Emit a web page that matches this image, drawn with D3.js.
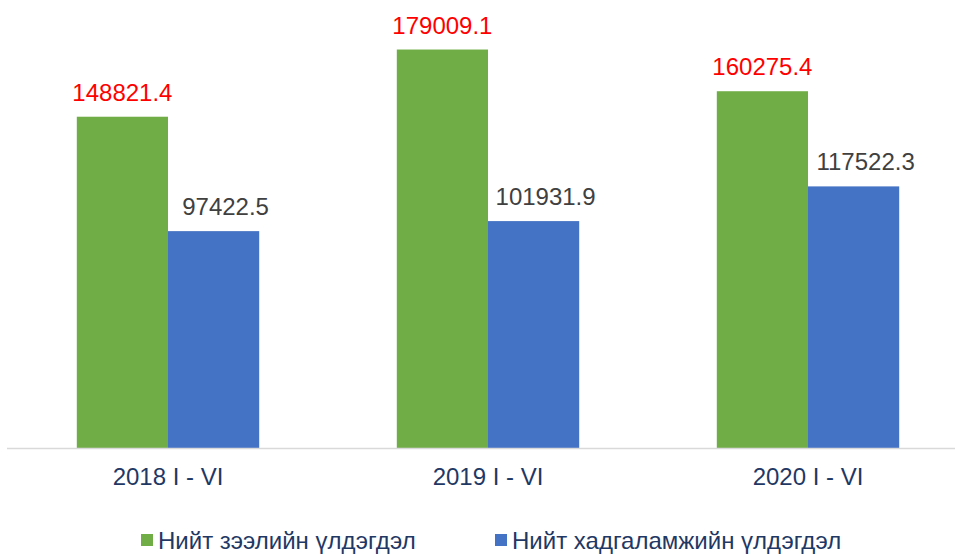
<!DOCTYPE html>
<meta charset="utf-8">
<style>
    body {
        margin: 0;
        background: #fff;
        font-family: "Liberation Sans", Arial, Helvetica, sans-serif;
    }

    svg {
        display: block;
    }
</style>

<body>
    <svg id="chart" width="955" height="554"></svg>
</body>

<script src="https://d3js.org/d3.v7.min.js"></script>
<script>
    // Data
    var categories = ["2018 I - VI", "2019 I - VI", "2020 I - VI"];
    var seriesNames = ["Нийт зээлийн үлдэгдэл", "Нийт хадгаламжийн үлдэгдэл"];
    var loans = [148821.4, 179009.1, 160275.4];
    var deposits = [97422.5, 101931.9, 117522.3];

    var colors = ["#70ad47", "#4472c4"],
        labelColors = ["#ff0000", "#404040"],
        labelDx = [0, 12],
        textColor = "#1f3864";

    var width = 955,
        height = 554,
        baseY = 448,
        svg = d3.select("#chart");

    var x = d3.scaleBand()
        .domain(categories)
        .range([8, 968])
        .paddingInner(0.43)
        .paddingOuter(0.215);

    var x1 = d3.scaleBand()
        .domain(seriesNames)
        .range([0, x.bandwidth()]);

    var y = d3.scaleLinear()
        .domain([0, 200000])
        .range([baseY, baseY - 445.2]);

    // one row per category with both series
    var rows = categories.map(function (c, i) {
        return {cat: c, values: [loans[i], deposits[i]]};
    });

    var groups = svg.selectAll("g.group")
        .data(rows)
        .enter().append("g")
        .attr("class", "group")
        .attr("transform", function (d) {
            return "translate(" + x(d.cat) + ",0)";
        });

    groups.selectAll("rect")
        .data(function (d) {
            return d.values.map(function (v, j) {
                return {name: seriesNames[j], value: v, j: j};
            });
        })
        .enter().append("rect")
        .attr("x", function (d) { return x1(d.name); })
        .attr("width", x1.bandwidth())
        .attr("y", function (d) { return y(d.value); })
        .attr("height", function (d) { return baseY - y(d.value); })
        .attr("fill", function (d) { return colors[d.j]; });

    groups.selectAll("text.value")
        .data(function (d) {
            return d.values.map(function (v, j) {
                return {name: seriesNames[j], value: v, j: j};
            });
        })
        .enter().append("text")
        .attr("class", "value")
        .attr("x", function (d) { return x1(d.name) + x1.bandwidth() / 2 + labelDx[d.j]; })
        .attr("y", function (d) { return y(d.value) - 16; })
        .attr("text-anchor", "middle")
        .attr("font-size", 24)
        .attr("fill", function (d) { return labelColors[d.j]; })
        .text(function (d) { return d.value.toFixed(1); });

    // x axis line
    svg.append("line")
        .attr("x1", 7)
        .attr("x2", width)
        .attr("y1", baseY + 0.5)
        .attr("y2", baseY + 0.5)
        .attr("stroke", "#d9d9d9")
        .attr("stroke-width", 1.5);

    // category labels
    svg.selectAll("text.cat")
        .data(categories)
        .enter().append("text")
        .attr("class", "cat")
        .attr("x", function (d) { return x(d) + x.bandwidth() / 2; })
        .attr("y", 485)
        .attr("text-anchor", "middle")
        .attr("font-size", 24)
        .attr("fill", textColor)
        .text(function (d) { return d; });

    // legend
    var legendX = [141, 495];
    var legend = svg.selectAll("g.legend")
        .data(seriesNames)
        .enter().append("g")
        .attr("class", "legend")
        .attr("transform", function (d, i) {
            return "translate(" + legendX[i] + ",534)";
        });

    legend.append("rect")
        .attr("width", 12)
        .attr("height", 12)
        .attr("fill", function (d, i) { return colors[i]; });

    legend.append("text")
        .attr("x", 17)
        .attr("y", 15)
        .attr("font-size", 24)
        .attr("fill", textColor)
        .text(function (d) { return d; });
</script>
